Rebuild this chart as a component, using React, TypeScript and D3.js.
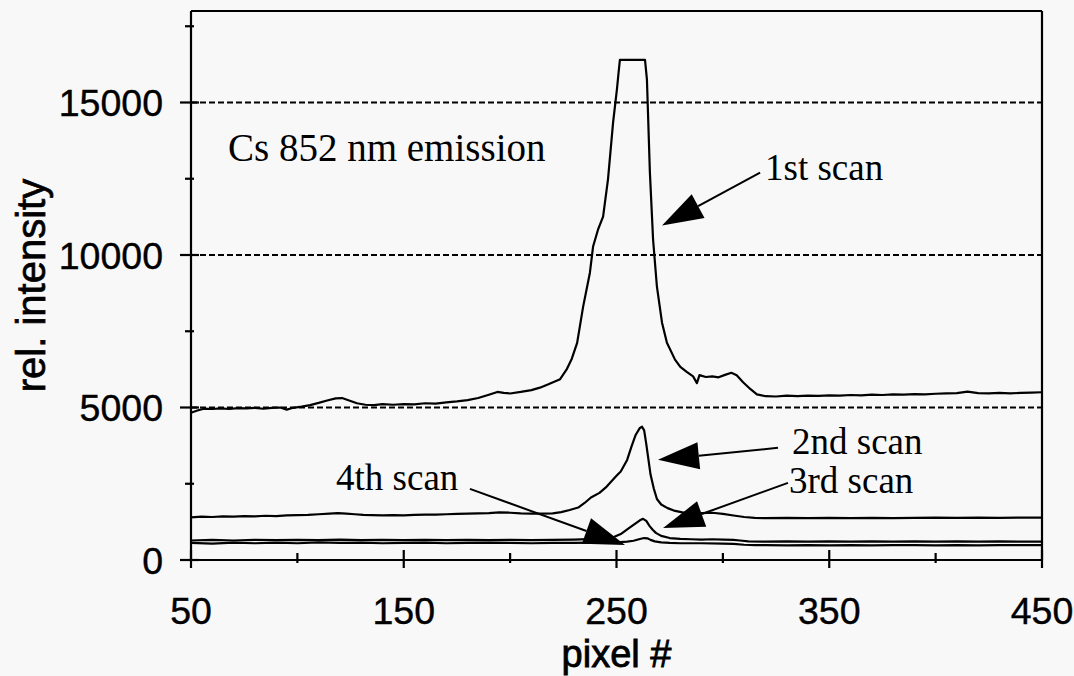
import React from "react";
import * as d3 from "d3";

// pixel #, rel. intensity
const scan1: [number, number][] = [
  [50, 4830], [53, 4900], [56, 4960], [60, 4950], [64, 4970], [68, 4950], [72, 4980], [76, 4970],
  [80, 4990], [84, 4960], [88, 4990], [92, 5000], [95, 4930], [98, 4990], [102, 5030], [106, 5080],
  [110, 5150], [114, 5230], [118, 5300], [121, 5310], [124, 5240], [128, 5140], [132, 5090], [136, 5080],
  [140, 5110], [145, 5090], [150, 5110], [155, 5100], [160, 5140], [165, 5130], [170, 5170], [175, 5200],
  [180, 5240], [185, 5310], [190, 5420], [194, 5510], [197, 5480], [200, 5460], [205, 5510], [210, 5570],
  [214, 5650], [218, 5760], [221, 5850], [223.5, 5930], [226.5, 6240], [229, 6600], [231.5, 7120],
  [234.3, 8300], [237.5, 9420], [239, 10280], [241.3, 10830], [243.7, 11260], [246, 12480], [248.4, 14350],
  [250.2, 15430], [251, 16000], [251.6, 16400], [263.4, 16400], [264.3, 15760], [265.7, 12700],
  [267.2, 10500], [269, 8960], [271.4, 7780], [273.7, 7120], [277.5, 6570], [280, 6330], [283, 6170],
  [286, 6020], [287.8, 5800], [289, 6060], [292, 6000], [295, 6020], [298, 5990], [301, 6070], [304, 6140],
  [306.5, 6060], [309.5, 5830], [313, 5600], [316, 5430], [320, 5370], [325, 5360], [330, 5390], [335, 5370],
  [340, 5390], [345, 5380], [350, 5400], [355, 5390], [360, 5410], [365, 5400], [370, 5420], [375, 5410],
  [380, 5430], [385, 5420], [390, 5440], [395, 5430], [400, 5450], [405, 5460], [410, 5470], [415, 5520],
  [420, 5470], [425, 5460], [430, 5480], [435, 5460], [440, 5480], [445, 5490], [450, 5500],
];

const scan2: [number, number][] = [
  [50, 1400], [55, 1420], [60, 1410], [65, 1430], [70, 1420], [75, 1440], [80, 1430], [85, 1450],
  [90, 1440], [95, 1460], [100, 1470], [105, 1480], [110, 1500], [115, 1520], [119, 1540], [123, 1520],
  [127, 1500], [131, 1480], [135, 1470], [140, 1460], [145, 1470], [150, 1460], [155, 1480], [160, 1490],
  [165, 1490], [170, 1500], [175, 1510], [180, 1520], [185, 1530], [190, 1540], [195, 1560], [200, 1550],
  [205, 1530], [210, 1520], [215, 1520], [220, 1530], [224, 1570], [228, 1640], [232, 1720], [235, 1870],
  [238, 2050], [242, 2200], [245, 2380], [247, 2530], [250, 2760], [252, 2900], [255, 3280], [257, 3710],
  [259, 4100], [261, 4330], [262, 4370], [263, 4250], [264, 3800], [265, 3300], [266, 2800], [267.5, 2350],
  [269, 2000], [271, 1820], [274, 1700], [277, 1620], [281, 1560], [286, 1530], [290, 1540], [295, 1550],
  [300, 1510], [305, 1460], [310, 1410], [315, 1380], [320, 1370], [330, 1380], [340, 1370], [350, 1380],
  [360, 1370], [370, 1380], [380, 1370], [390, 1380], [400, 1390], [410, 1380], [420, 1390], [430, 1380],
  [440, 1390], [450, 1390],
];

const scan3: [number, number][] = [
  [50, 640], [60, 660], [70, 640], [80, 660], [90, 650], [100, 660], [110, 650], [120, 670], [130, 650],
  [140, 660], [150, 650], [160, 660], [170, 650], [180, 660], [190, 650], [200, 660], [210, 650], [220, 660],
  [230, 670], [240, 690], [245, 710], [249, 760], [252, 850], [256, 1050], [259, 1200], [261, 1300],
  [262.5, 1350], [264, 1280], [265.5, 1120], [267, 990], [268.5, 890], [271, 790], [275, 720], [280, 690],
  [285, 680], [290, 670], [295, 680], [300, 670], [305, 660], [308, 640], [312, 610], [320, 600], [330, 610],
  [340, 600], [350, 610], [360, 600], [370, 610], [380, 600], [390, 610], [400, 600], [410, 610], [420, 600],
  [430, 610], [440, 600], [450, 600],
];

const scan4: [number, number][] = [
  [50, 560], [60, 540], [70, 570], [80, 550], [90, 570], [100, 550], [110, 580], [120, 560], [130, 570],
  [140, 550], [150, 560], [160, 570], [170, 550], [180, 560], [190, 570], [200, 560], [210, 550], [220, 560],
  [230, 560], [240, 570], [250, 580], [255, 600], [258, 630], [261, 690], [263, 720], [264.5, 710], [266, 660],
  [268, 610], [271, 580], [275, 560], [280, 550], [290, 550], [300, 540], [305, 530], [310, 500], [315, 490],
  [320, 490], [330, 480], [340, 490], [350, 480], [360, 490], [370, 480], [380, 490], [390, 490], [400, 480],
  [410, 490], [420, 480], [430, 490], [440, 490], [450, 490],
];

const xMajorTicks = [50, 150, 250, 350, 450];
const xMinorTicks = [100, 200, 300, 400];
const yMajorTicks = [0, 5000, 10000, 15000];
const yMinorTicks = [2500, 7500, 12500, 17500];
const gridValues = [5000, 10000, 15000];

// labels with arrows, in data units: text start, line start, arrow tip
const arrowNotes = [
  { label: "1st scan", text: [319.8, 12475], from: [317.5, 12700], tip: [271.4, 10965] },
  { label: "2nd scan", text: [332.5, 3480], from: [325.9, 3677], tip: [269.5, 3283] },
  { label: "3rd scan", text: [331.1, 2210], from: [330.6, 2528], tip: [271.9, 1050] },
  { label: "4th scan", text: [118.2, 2298], from: [181.1, 2331], tip: [254, 492] },
];
const title = { label: "Cs 852 nm emission", at: [67.4, 13066] };

const W = 1074;
const H = 676;

export default function App() {
  const x = d3.scaleLinear().domain([50, 450]).range([191, 1042]);
  const y = d3.scaleLinear().domain([0, 18000]).range([560, 11]);

  const line = d3
    .line<[number, number]>()
    .x((d) => x(d[0]))
    .y((d) => y(d[1]));

  const sans = "'Liberation Sans', Arial, sans-serif";
  const serif = "'Liberation Serif', 'Times New Roman', serif";

  // arrow head polygon
  const head = (fx: number, fy: number, tx: number, ty: number) => {
    const ang = Math.atan2(ty - fy, tx - fx);
    const len = 41;
    const hw = 13.5;
    const bx = tx - len * Math.cos(ang);
    const by = ty - len * Math.sin(ang);
    const px = -Math.sin(ang) * hw;
    const py = Math.cos(ang) * hw;
    return {
      pts: `${tx},${ty} ${bx + px},${by + py} ${bx - px},${by - py}`,
      bx,
      by,
    };
  };

  return (
    <svg
      width={W}
      height={H}
      style={{ position: "absolute", left: 0, top: 0, background: "#f8f8f8" }}
    >
      <rect width={W} height={H} fill="#f8f8f8" />

      {/* gridlines */}
      {gridValues.map((v) => (
        <line
          key={v}
          x1={x(50)}
          x2={x(450)}
          y1={y(v)}
          y2={y(v)}
          stroke="#000"
          strokeWidth={2}
          strokeDasharray="6,3"
        />
      ))}

      {/* curves */}
      {[scan1, scan2, scan3, scan4].map((s, i) => (
        <path key={i} d={line(s) || ""} fill="none" stroke="#000" strokeWidth={2.2} strokeLinejoin="round" />
      ))}

      {/* frame */}
      <line x1={x(50)} x2={x(450)} y1={y(18000)} y2={y(18000)} stroke="#000" strokeWidth={2.2} />
      <line x1={x(450)} x2={x(450)} y1={y(18000)} y2={y(0)} stroke="#000" strokeWidth={2.2} />
      <line x1={x(50)} x2={x(450)} y1={y(0)} y2={y(0)} stroke="#000" strokeWidth={2.2} />
      <line x1={x(50)} x2={x(50)} y1={y(18000)} y2={y(0)} stroke="#000" strokeWidth={2.2} />

      {/* x ticks */}
      {xMajorTicks.map((t) => (
        <g key={t}>
          <line x1={x(t)} x2={x(t)} y1={y(0) - 10} y2={y(0) + 8} stroke="#000" strokeWidth={2.2} />
          <text x={x(t)} y={624} textAnchor="middle" fontFamily={sans} fontSize={37.5} stroke="#000" strokeWidth={0.4}>
            {t}
          </text>
        </g>
      ))}
      {xMinorTicks.map((t) => (
        <line key={t} x1={x(t)} x2={x(t)} y1={y(0) - 7} y2={y(0) + 3} stroke="#000" strokeWidth={2.2} />
      ))}

      {/* y ticks */}
      {yMajorTicks.map((t) => (
        <g key={t}>
          <line x1={x(50) - 11} x2={x(50) + 8} y1={y(t)} y2={y(t)} stroke="#000" strokeWidth={2.2} />
          <text x={163} y={y(t) + 13.5} textAnchor="end" fontFamily={sans} fontSize={37.5} stroke="#000" strokeWidth={0.4}>
            {t}
          </text>
        </g>
      ))}
      {yMinorTicks.map((t) => (
        <line key={t} x1={x(50) - 6} x2={x(50) + 3} y1={y(t)} y2={y(t)} stroke="#000" strokeWidth={2.2} />
      ))}

      {/* axis titles */}
      <text
        x={(x(50) + x(450)) / 2}
        y={667}
        textAnchor="middle"
        fontFamily={sans}
        fontSize={38}
        stroke="#000"
        strokeWidth={0.8}
      >
        pixel #
      </text>
      <text
        transform={`translate(45,${(y(0) + y(18000)) / 2}) rotate(-90)`}
        textAnchor="middle"
        fontFamily={sans}
        fontSize={40}
        stroke="#000"
        strokeWidth={0.7}
      >
        rel. intensity
      </text>

      {/* annotations */}
      <text x={x(title.at[0])} y={y(title.at[1])} fontFamily={serif} fontSize={39}>
        {title.label}
      </text>
      {arrowNotes.map((a) => {
        const fx = x(a.from[0]);
        const fy = y(a.from[1]);
        const tx = x(a.tip[0]);
        const ty = y(a.tip[1]);
        const h = head(fx, fy, tx, ty);
        return (
          <g key={a.label}>
            <line x1={fx} y1={fy} x2={h.bx} y2={h.by} stroke="#000" strokeWidth={2} />
            <polygon points={h.pts} fill="#000" />
            <text x={x(a.text[0])} y={y(a.text[1])} fontFamily={serif} fontSize={37}>
              {a.label}
            </text>
          </g>
        );
      })}
    </svg>
  );
}
